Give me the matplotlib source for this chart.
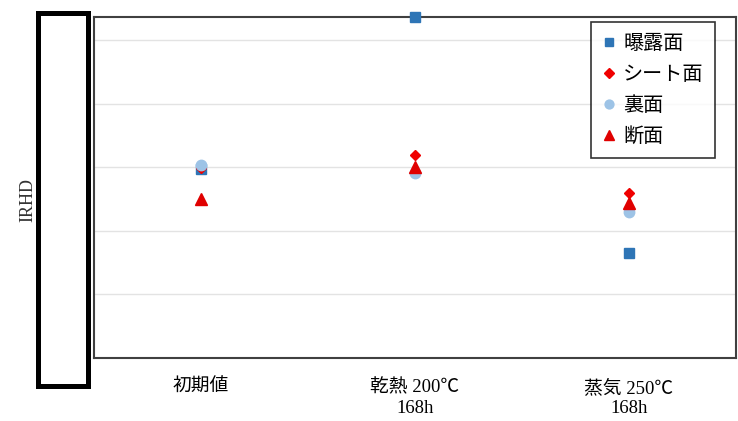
import matplotlib
matplotlib.use('Agg')
import matplotlib.pyplot as plt
from matplotlib.patches import Rectangle

# ── データ ──────────────────────────────────────────────
categories = ['初期値', '乾熱 200℃\n168h', '蒸気 250℃\n168h']
exposed = [2.98, 5.37, 1.65]     # 曝露面
sheet = [2.99, 3.20, 2.60]       # シート面
back = [3.04, 2.91, 2.30]        # 裏面
section = [2.50, 3.01, 2.44]     # 断面
grid_ticks = [0, 1, 2, 3, 4, 5]

plt.rcParams['font.family'] = ['Liberation Serif', 'Noto Sans CJK JP', 'DejaVu Sans']

fig = plt.figure(figsize=(7.38, 4.21), dpi=100)
ax = fig.add_axes([94 / 738, 63 / 421, 642 / 738, 341 / 421])

x = list(range(len(categories)))
ax.plot(x, exposed, 's', color='#2E75B6', ms=7, clip_on=False, label='曝露面', zorder=3)
ax.plot(x, sheet, 'D', color='#F00000', ms=5.5, clip_on=False, label='シート面', zorder=4)
ax.plot(x, back, 'o', color='#9DC3E6', ms=7.5, clip_on=False, label='裏面', zorder=5)
ax.plot(x, section, '^', color='#E00000', ms=8, clip_on=False, label='断面', zorder=6)

ax.set_xlim(-0.5, 2.5)
ax.set_ylim(0, 5.37)
ax.set_yticks(grid_ticks)
ax.set_yticklabels([])
ax.tick_params(axis='y', length=0)
ax.yaxis.grid(True, color='#E3E3E3', lw=1)
ax.set_axisbelow(True)

ax.set_xticks(x)
ax.set_xticklabels(categories, fontsize=13.5, linespacing=1.25)
ax.tick_params(axis='x', length=0, pad=15)

for s in ax.spines.values():
    s.set_color('#404040')
    s.set_linewidth(1.5)

leg = ax.legend(loc='upper left', bbox_to_anchor=(591 / 738, 1 - 22 / 421),
                bbox_transform=fig.transFigure, borderaxespad=0,
                fontsize=14.5, frameon=True, fancybox=False, handlelength=0.7,
                handletextpad=0.35, labelspacing=0.5, borderpad=0.55,
                markerscale=0.85)
leg.get_frame().set_edgecolor('black')
leg.get_frame().set_linewidth(1.2)
for t in leg.get_texts():
    t.set_family(['Noto Sans CJK JP'])

fig.text(28 / 738, 1 - 200 / 421, 'IRHD', rotation=90, fontsize=13,
         ha='center', va='center', color='#333333')

# 左側の黒枠（目盛ラベルを隠す）
fig.patches.append(Rectangle((37.5 / 738, 1 - 385.5 / 421), 50 / 738, 373 / 421,
                             transform=fig.transFigure, fill=False,
                             edgecolor='black', lw=3.6))

fig.savefig('out.png', dpi=100)
